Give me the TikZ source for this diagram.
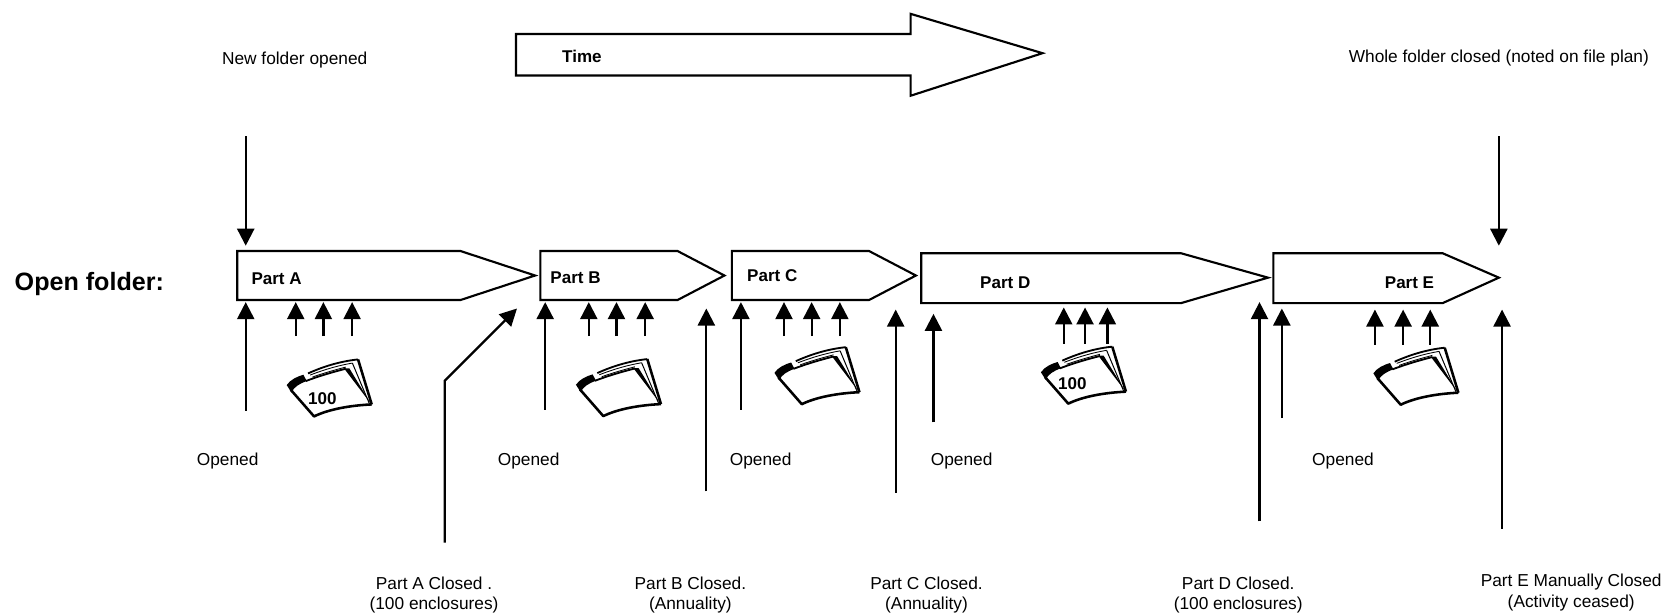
\documentclass[tikz,border=0pt]{standalone}
\usepackage{fontspec}
\setmainfont{Liberation Sans}
\usetikzlibrary{arrows.meta}

\tikzset{every picture/.style={line width=1.5pt}}
\tikzset{
	partbox/.style={draw=black,fill=white,line width=1.5pt,miter limit=10},
	marker/.style={line width=1.6pt,-{Triangle[width=12pt,length=12pt]}},
	plain/.style={font=\fontsize{12.2}{14.3}\selectfont,inner sep=0pt,align=center},
	heavy/.style={font=\fontsize{12}{14.3}\selectfont\bfseries,inner sep=0pt},
	pics/folderfig/.style={code={
		\begin{scope}[x=0.235pt,y=-0.235pt]
		\draw [fill=white,draw=none] (62,150) -- (105,120) -- (262,57) -- (303,192) -- (130,228) -- cycle ;
		% pages at the back
		\draw [line width=1.3pt] (112,99) .. controls (165,75) and (215,62) .. (262,57) ;
		\draw [line width=0.6pt] (118,104) .. controls (170,84) and (210,74) .. (245,68) ;
		\draw [line width=0.6pt] (125,110) .. controls (165,96) and (195,88) .. (225,80) ;
		\draw [line width=0.7pt] (245,68) -- (296,190) ;
		\draw [line width=1.8pt] (262,57) -- (303,192) ;
		% front cover
		\draw [line width=1.3pt] (105,122) .. controls (150,105) and (190,94) .. (225,85) ;
		\draw [fill=black,draw=none] (220,84) -- (236,84) -- (302,192) -- cycle ;
		\draw [line width=1.8pt,line join=round] (60,148) -- (130,228) .. controls (175,206) and (240,195) .. (303,192) ;
		\draw [fill=black,draw=none] (48,134) .. controls (58,118) and (80,108) .. (98,103) -- (108,122) .. controls (85,130) and (70,140) .. (62,156) -- cycle ;
		\end{scope}
	}},
}

\begin{document}
\begin{tikzpicture}[x=0.75pt,y=0.75pt,yscale=-1,xscale=1]
	\useasboundingbox (0,0) rectangle (1568,576);

	%Time arrow
	\draw [partbox] (485,32) -- (856,32) -- (856,13) -- (980,50) -- (856,90) -- (856,71) -- (485,71) -- cycle ;

	%Parts
	\draw [partbox] (223,236) -- (433,236) -- (503,259) -- (433,282) -- (223,282) -- cycle ;
	\draw [partbox] (508,236) -- (637,236) -- (681,259) -- (637,282) -- (508,282) -- cycle ;
	\draw [partbox] (688,236) -- (817,236) -- (861,259) -- (817,282) -- (688,282) -- cycle ;
	\draw [partbox] (866,238) -- (1110,238) -- (1192,261) -- (1110,285) -- (866,285) -- cycle ;
	\draw [partbox] (1197,238) -- (1356,238) -- (1409,261) -- (1356,285) -- (1197,285) -- cycle ;

	%Folders
	\pic at (254.5,320) {folderfig};
	\pic at (526.4,319.7) {folderfig};
	\pic at (713,308.5) {folderfig};
	\pic at (963.5,308) {folderfig};
	\pic at (1276,309) {folderfig};

	%Long markers
	\foreach \id/\x/\ya/\yb in {newstart/231/128/231,wholeend/1409/128/231,
		openA/231/386/284,openB/512.5/385/284,openC/696.5/385/284,openD/877.5/397/295,openE/1205/393/290,
		closeB/664/462/290,closeC/842/463/291,closeD/1184/490/284,closeE/1412/497/291}{
		\coordinate (\id from) at (\x,\ya);
		\coordinate (\id to) at (\x,\yb);
		\draw [marker] (\id from) -- (\id to);
	}

	%Short markers
	\foreach \id/\x/\ya/\yb in {a1/278/316/284,a2/304/316/284,a3/331/316/284,
		b1/553.5/316/284,b2/579.5/316/284,b3/606.5/316/284,
		c1/737/316/284,c2/763/316/284,c3/789.5/316/284,
		d1/1000/323/289,d2/1020/323/289,d3/1041/323/289,
		e1/1292.5/324/291,e2/1319/324/291,e3/1344.5/324/291}{
		\coordinate (\id from) at (\x,\ya);
		\coordinate (\id to) at (\x,\yb);
		\draw [marker] (\id from) -- (\id to);
	}

	%Part A closed, with a bend
	\coordinate (closeA from) at (418,510);
	\coordinate (closeA bend) at (418,358);
	\coordinate (closeA to) at (486,290);
	\draw [marker] (closeA from) -- (closeA bend) -- (closeA to);

	% Text Node
	\node [heavy,font=\fontsize{17.7}{20}\selectfont\bfseries] (openfolder) at (84,267) {Open folder:};
	\node [heavy] (time) at (547,53) {Time};
	\node [plain] (newfolder) at (277,56) {New folder opened};
	\node [plain] (wholefolder) at (1409,55) {Whole folder closed (noted on file plan)};
	% Text Node
	\node [heavy] (partA) at (260,262) {Part A};
	\node [heavy] (partB) at (541,261) {Part B};
	\node [heavy] (partC) at (726,259) {Part C};
	\node [heavy] (partD) at (945,266) {Part D};
	\node [heavy] (partE) at (1325,266) {Part E};
	\node [heavy] (countA) at (303,375) {100};
	\node [heavy] (countD) at (1008,361) {100};
	% Text Node
	\node [plain] (openedA) at (214,433.5) {Opened};
	\node [plain] (openedB) at (497,433.5) {Opened};
	\node [plain] (openedC) at (715,433.5) {Opened};
	\node [plain] (openedD) at (904,433.5) {Opened};
	\node [plain] (openedE) at (1262.5,433.5) {Opened};
	% Text Node
	\node [plain] (closedA) at (408,559.5) {Part A Closed .\\(100 enclosures)};
	\node [plain] (closedB) at (649,559.5) {Part B Closed.\\(Annuality)};
	\node [plain] (closedC) at (871,559.5) {Part C Closed.\\(Annuality)};
	\node [plain] (closedD) at (1164,559.5) {Part D Closed.\\(100 enclosures)};
	\node [plain] (closedE) at (1477,557) {Part E Manually Closed\\(Activity ceased)};

\end{tikzpicture}
\end{document}
